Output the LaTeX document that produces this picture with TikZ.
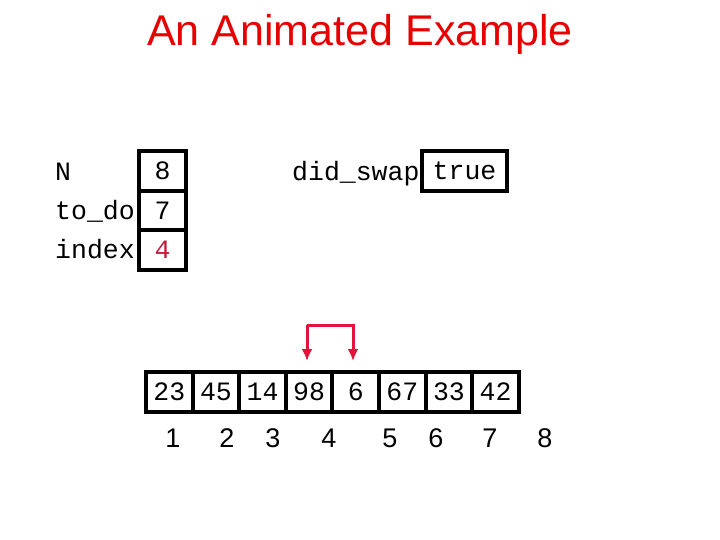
\documentclass[tikz,border=0pt]{standalone}
\usepackage{fontspec}
\usetikzlibrary{arrows.meta}
\setmainfont{Liberation Sans}
\newfontfamily\mono{Liberation Mono}
\definecolor{tred}{RGB}{230,0,0}
\definecolor{ared}{RGB}{225,20,60}
\definecolor{vred}{RGB}{190,30,60}
\begin{document}
\begin{tikzpicture}[x=1pt,y=-1pt,
  cell/.style={draw,line width=4pt,minimum width=46.6pt,minimum height=40pt,inner sep=0pt,anchor=north west,font=\mono\fontsize{26.5}{26.5}\selectfont},
  lbl/.style={anchor=west,inner sep=0pt,font=\mono\fontsize{26.5}{26.5}\selectfont},
  idx/.style={font=\fontsize{27}{27}\selectfont},
  arr/.style={ared,line width=3pt,-{Latex[length=12pt,width=11pt]}}]
\useasboundingbox (0,0) rectangle (720,540);
\node[tred,font=\fontsize{43}{43}\selectfont] (title) at (360,34) {An Animated Example};
\node[lbl] (lN) at (55,172) {N};
\node[lbl] (lT) at (55,211) {to\_do};
\node[lbl] (lI) at (55,249) {index};
\node[cell,minimum width=47pt,fill=white] (vN) at (137,149) {8};
\node[cell,minimum width=47pt,fill=white] (vT) at (137,189) {7};
\node[cell,minimum width=47pt,fill=white] (vI) at (137,228) {\color{vred}4};
\node[lbl] (lD) at (292,174) {did\_swap};
\node[cell,minimum width=85pt,fill=white] (vD) at (420,149) {true};
\foreach \v [count=\i] in {23,45,14,98,6,67,33,42}{
  \node[cell] (a\i) at ({144+(\i-1)*46.6},370) {\v};
}
\foreach \x/\n in {173/1,227/2,273/3,329/4,390/5,436/6,490/7,545/8}
  \node[idx] (i\n) at (\x,438) {\n};
\coordinate (p1) at (307,325);
\coordinate (p2) at (353,325);
\coordinate (q1) at (307,361);
\coordinate (q2) at (353,361);
\draw[arr] (p1) -- (q1);
\draw[arr] (p1) -- (p2) -- (q2);
\end{tikzpicture}
\end{document}
